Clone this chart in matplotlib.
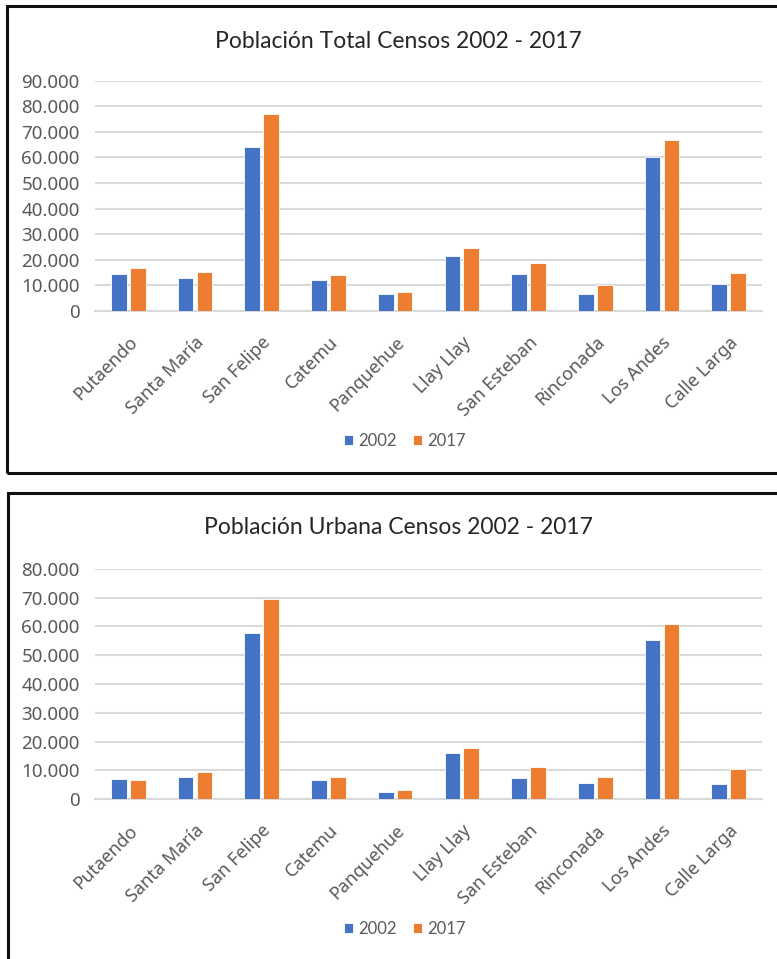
import matplotlib
matplotlib.use("Agg")
import matplotlib.pyplot as plt
import numpy as np
from matplotlib.patches import Rectangle

comunas = ["Putaendo", "Santa María", "San Felipe", "Catemu", "Panquehue",
           "Llay Llay", "San Esteban", "Rinconada", "Los Andes", "Calle Larga"]
total_2002 = [14649, 12813, 64126, 12112, 6567, 21644, 14400, 6692, 60198, 10393]
total_2017 = [16754, 15241, 76844, 13998, 7273, 24608, 18855, 10207, 66708, 14832]
urbana_2002 = [6940, 7730, 57700, 6590, 2640, 15950, 7390, 5550, 55250, 5200]
urbana_2017 = [6590, 9470, 69600, 7730, 3330, 17800, 11310, 7730, 60900, 10500]
series_labels = ["2002", "2017"]
titles = ["Población Total Censos 2002 - 2017", "Población Urbana Censos 2002 - 2017"]

BLUE = "#4472C4"
ORANGE = "#ED7D31"
GRID = "#D9D9D9"
TXT = "#595959"
TICKFONT = ["Noto Sans", "DejaVu Sans"]

plt.rcParams["font.family"] = TICKFONT

W, H = 777, 959
fig = plt.figure(figsize=(W / 100, H / 100), dpi=100)

def fx(px):
    return px / W

def fy(py):
    return 1 - py / H

# chart borders
fig.patches.append(Rectangle((fx(7), fy(473)), fx(800), fy(6) - fy(473), transform=fig.transFigure,
                             fill=False, edgecolor="#111111", linewidth=2.2))
fig.patches.append(Rectangle((fx(8), fy(1000)), fx(800), fy(493) - fy(1000), transform=fig.transFigure,
                             fill=False, edgecolor="#111111", linewidth=2.2))

def fmt(v):
    return f"{int(v):,}".replace(",", ".")

def draw(ax_rect, d02, d17, ymax, title, title_y, legend_y):
    ax = fig.add_axes(ax_rect)
    x = np.arange(len(comunas))
    w = 0.235
    off = 0.142
    ax.bar(x - off, d02, w, color=BLUE, edgecolor="white", linewidth=0.6, label=series_labels[0], zorder=3)
    ax.bar(x + off, d17, w, color=ORANGE, edgecolor="white", linewidth=0.6, label=series_labels[1], zorder=3)
    ax.set_xlim(-0.5, len(comunas) - 0.5)
    ax.set_ylim(0, ymax)
    yt = np.arange(0, ymax + 1, 10000)
    ax.set_yticks(yt)
    ax.set_yticklabels([fmt(v) for v in yt], fontfamily=TICKFONT, fontsize=13.5, color=TXT)
    ax.grid(axis="y", color=GRID, linewidth=1.5, zorder=0)
    for s in ["top", "right", "left"]:
        ax.spines[s].set_visible(False)
    ax.spines["bottom"].set_color(GRID)
    ax.spines["bottom"].set_linewidth(1.5)
    ax.tick_params(axis="both", length=0)
    ax.tick_params(axis="y", pad=11)
    ax.set_xticks(x)
    ax.set_xticklabels(comunas, rotation=45, ha="right", rotation_mode="anchor",
                       fontfamily=TICKFONT, fontsize=13, color=TXT)
    ax.tick_params(axis="x", pad=16)
    fig.text(fx(398), fy(title_y), title, ha="center", va="center", fontsize=16.5,
             family="Lato", color="#262626")
    handles, labels = ax.get_legend_handles_labels()
    fig.legend(handles, labels, loc="center", bbox_to_anchor=(fx(405), fy(legend_y)), ncol=2,
               frameon=False, prop={"family": "Lato", "size": 12}, labelcolor=TXT,
               handlelength=0.55, handleheight=0.55, handletextpad=0.3, columnspacing=1.0)
    return ax

draw([fx(95), fy(311), fx(762) - fx(95), fy(80.7) - fy(311)], total_2002, total_2017, 90000,
     titles[0], 41, 441)
draw([fx(95), fy(799.3), fx(762) - fx(95), fy(568.7) - fy(799.3)], urbana_2002, urbana_2017, 80000,
     titles[1], 528, 929)

fig.savefig("out.png", dpi=100)
